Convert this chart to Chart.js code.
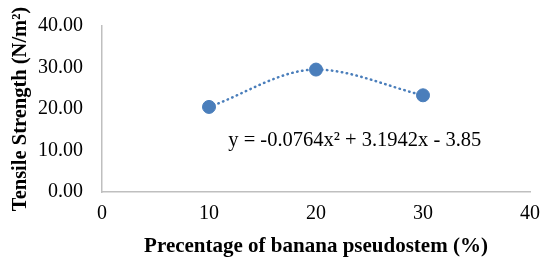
<!DOCTYPE html>
<html lang="en">
<head>
  <meta charset="UTF-8">
  <title>Tensile Strength</title>
  <script src="https://cdn.jsdelivr.net/npm/chart.js"></script>
  <style>
    body {
      margin: 0;
      background: #fff;
    }
    .wrap {
      width: 541px;
      height: 257px;
    }
  </style>
</head>
<body>
  <div class="wrap">
    <canvas id="tensileChart"></canvas>
  </div>

  <script>
    // data
    const percentages = [10, 20, 30];
    const tensileValues = [20.5, 29.5, 23.3];
    const trendEquation = 'y = -0.0764x\u00B2 + 3.1942x - 3.85';

    const blue = '#4a7ebb';
    const serif = "'Liberation Serif', 'Times New Roman', serif";

    const points = percentages.map((x, i) => ({ x: x, y: tensileValues[i] }));

    // equation label next to the trendline
    const equationLabel = {
      id: 'equationLabel',
      afterDraw(chart) {
        const ctx = chart.ctx;
        const xs = chart.scales.x;
        const ys = chart.scales.y;
        ctx.save();
        ctx.font = '20.5px ' + serif;
        ctx.fillStyle = '#000';
        ctx.textBaseline = 'middle';
        ctx.fillText(trendEquation, xs.getPixelForValue(11.8), ys.getPixelForValue(12.4));
        ctx.restore();
      }
    };

    new Chart(document.getElementById('tensileChart'), {
      type: 'scatter',
      data: {
        datasets: [
          {
            label: 'Trend',
            data: points,
            showLine: true,
            borderColor: blue,
            borderWidth: 2.5,
            borderDash: [0.5, 4.5],
            borderCapStyle: 'round',
            cubicInterpolationMode: 'monotone',
            pointRadius: 0,
            fill: false
          },
          {
            label: 'Tensile Strength',
            data: points,
            backgroundColor: blue,
            borderColor: blue,
            pointRadius: 6.5,
            pointHoverRadius: 6.5
          }
        ]
      },
      plugins: [equationLabel],
      options: {
        responsive: true,
        maintainAspectRatio: false,
        animation: false,
        layout: {
          padding: { left: 0, right: 11, top: 26, bottom: 0 }
        },
        scales: {
          x: {
            min: 0,
            max: 40,
            ticks: {
              stepSize: 10,
              color: '#000',
              padding: 10,
              font: { family: serif, size: 20 }
            },
            grid: { display: false, drawTicks: false },
            border: { display: true, color: '#bfbfbf', width: 1.5 },
            title: {
              display: true,
              text: 'Precentage of banana pseudostem (%)',
              color: '#000',
              padding: { top: 0, bottom: 0 },
              font: { family: serif, size: 21, weight: 'bold', lineHeight: 1 }
            },
            afterFit(scale) {
              scale.height = 65;
              scale.paddingLeft = 0;
              scale.paddingRight = 0;
            }
          },
          y: {
            min: 0,
            max: 40,
            ticks: {
              stepSize: 10,
              color: '#000',
              padding: 19,
              font: { family: serif, size: 20 },
              callback: v => v.toFixed(2)
            },
            grid: { display: false, drawTicks: false },
            border: { display: true, color: '#bfbfbf', width: 1.5 },
            title: {
              display: true,
              text: 'Tensile Strength (N/m\u00B2)',
              color: '#000',
              padding: { top: 8, bottom: 0 },
              font: { family: serif, size: 20.5, weight: 'bold' }
            },
            afterFit(scale) {
              scale.width = 102;
              scale.paddingTop = 0;
              scale.paddingBottom = 0;
            }
          }
        },
        plugins: {
          legend: { display: false },
          tooltip: { enabled: false }
        }
      }
    });
  </script>
</body>
</html>
